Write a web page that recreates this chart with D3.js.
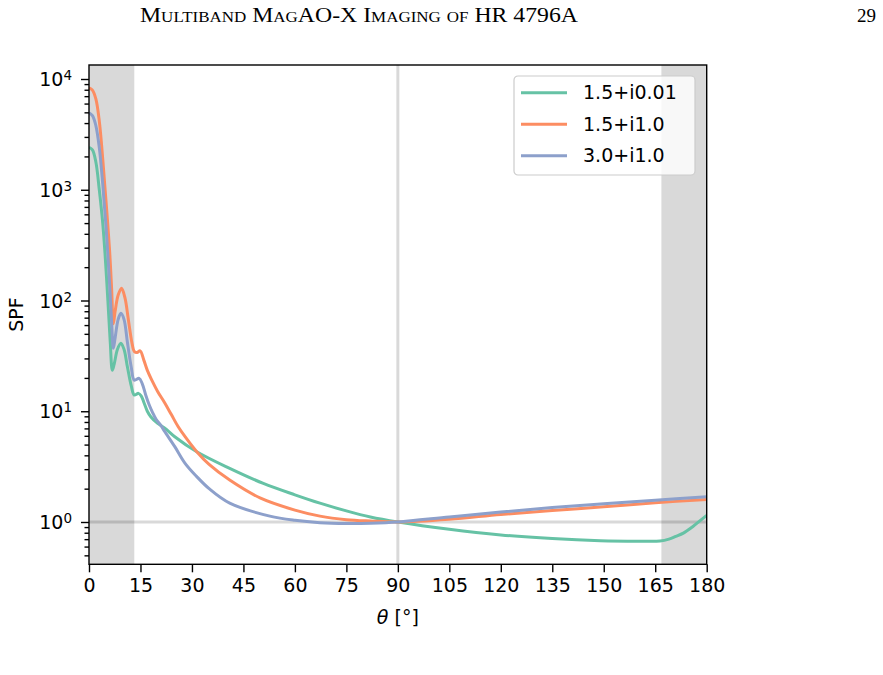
<!DOCTYPE html>
<meta charset="utf-8"/>
<title>SPF</title>
<script src="https://cdn.jsdelivr.net/npm/d3@7"></script>
<style>
  body { margin: 0; background: #fff; }
  svg text { font-family: 'DejaVu Sans', sans-serif; fill: #000; }
  .axis path, .axis line { stroke: #000; stroke-width: 1.4px; }
  .header { font-family: 'Liberation Serif', 'DejaVu Serif', serif !important; font-variant: small-caps; }
</style>
<svg width=883 height=675></svg>
<script>
  // angles in degrees, SPF
  const seriesNames = ['1.5+i0.01', '1.5+i1.0', '3.0+i1.0'];
  const seriesColors = ['#66c2a5', '#fc8d62', '#8da0cb'];

  const greenTheta = [0, 1, 2, 3, 4, 4.7, 5.5, 6.2, 6.8, 7.3, 8.3, 9.3, 10.2, 11.2, 12.3, 13.2, 14.4, 15.2, 16, 17, 18, 20, 22, 25, 31.4, 41, 50.8, 60, 67.3, 75, 82, 90, 105, 120, 135, 149, 160, 166.4, 169, 171, 173.2, 176, 178, 180];
  const greenSpf = [2415, 2291, 1778, 1000, 501, 257, 100, 41.7, 23.4, 26.3, 36.3, 41.1, 36.3, 25.1, 17.0, 14.0, 14.5, 13.8, 12.0, 10.0, 8.91, 7.76, 7.08, 5.89, 4.31, 3.05, 2.23, 1.76, 1.48, 1.26, 1.11, 1.0, 0.859, 0.764, 0.708, 0.678, 0.671, 0.673, 0.700, 0.741, 0.794, 0.912, 1.023, 1.148];

  const orangeTheta = [0, 1, 2, 3, 4, 5, 6, 6.6, 7.1, 7.6, 8.5, 9.5, 10.5, 11.5, 12.5, 13.2, 14, 14.9, 16, 17, 18.3, 20, 22, 24, 26, 28, 31.4, 35, 41, 50, 60, 67.3, 75, 82, 90, 105, 120, 135, 150, 165, 180];
  const orangeSpf = [8318, 7943, 6607, 4169, 1905, 759, 282, 126, 61.7, 79.4, 112, 129, 105, 66.1, 41.7, 34.7, 33.9, 35.1, 28.8, 23.4, 19.1, 15.1, 12.0, 9.33, 7.24, 5.89, 4.31, 3.31, 2.39, 1.64, 1.28, 1.13, 1.05, 1.02, 1.0, 1.06, 1.17, 1.27, 1.37, 1.49, 1.60];

  const blueTheta = [0, 1, 2, 3, 4, 5, 6, 6.6, 7.1, 7.6, 8.5, 9.3, 10.2, 11.2, 12.3, 13.2, 14.6, 15.5, 16.5, 17.5, 18.5, 19.5, 21, 22, 25, 28, 31.4, 35, 41, 52.7, 60, 67.3, 75, 82, 90, 105, 120, 135, 150, 165, 180];
  const blueSpf = [4966, 4677, 3802, 2399, 1122, 447, 141, 63.1, 37.0, 45.7, 67.6, 76.6, 67.6, 41.7, 25.1, 19.1, 19.8, 17.8, 14.1, 11.5, 9.77, 8.51, 7.41, 6.61, 4.79, 3.39, 2.57, 2.0, 1.48, 1.13, 1.035, 0.986, 0.970, 0.975, 1.0, 1.11, 1.23, 1.35, 1.46, 1.57, 1.69];

  const xTicks = [0, 15, 30, 45, 60, 75, 90, 105, 120, 135, 150, 165, 180];
  const yMajor = [1, 10, 100, 1000, 10000];
  const shadeSpans = [[0, 13.2], [166.8, 180]];

  const series = [
    {theta: greenTheta, spf: greenSpf},
    {theta: orangeTheta, spf: orangeSpf},
    {theta: blueTheta, spf: blueSpf}
  ].map((s, i) => ({name: seriesNames[i], color: seriesColors[i],
                    pts: s.theta.map((t, j) => [t, s.spf[j]])}));

  const pLeft = 89, pRight = 706.7, pTop = 65, pBottom = 564.3;
  const svg = d3.select('svg');

  const x = d3.scaleLinear().domain([0, 180]).range([pLeft, pRight]);
  const y = d3.scaleLog().domain([0.415, 13380]).range([pBottom, pTop]);

  svg.append('defs').append('clipPath').attr('id', 'clip')
    .append('rect').attr('x', pLeft).attr('y', pTop)
    .attr('width', pRight - pLeft).attr('height', pBottom - pTop);

  const plot = svg.append('g').attr('clip-path', 'url(#clip)');

  plot.selectAll('rect.shade').data(shadeSpans).enter().append('rect')
    .attr('class', 'shade')
    .attr('x', d => x(d[0])).attr('width', d => x(d[1]) - x(d[0]))
    .attr('y', pTop).attr('height', pBottom - pTop)
    .style('fill', '#d9d9d9');

  plot.append('line').attr('x1', x(90)).attr('x2', x(90)).attr('y1', pTop).attr('y2', pBottom)
    .style('stroke', '#000').style('stroke-opacity', 0.15).style('stroke-width', 3);
  plot.append('line').attr('x1', pLeft).attr('x2', pRight).attr('y1', y(1)).attr('y2', y(1))
    .style('stroke', '#000').style('stroke-opacity', 0.15).style('stroke-width', 3);

  const line = d3.line()
    .x(d => x(d[0])).y(d => y(d[1]))
    .curve(d3.curveCatmullRom.alpha(0.5));

  plot.selectAll('path.spf').data(series).enter().append('path')
    .attr('class', 'spf')
    .attr('d', d => line(d.pts))
    .style('fill', 'none')
    .style('stroke', d => d.color)
    .style('stroke-width', 3);

  // axes
  const xAxis = svg.append('g').attr('class', 'axis')
    .attr('transform', 'translate(0,' + pBottom + ')')
    .call(d3.axisBottom(x).tickValues(xTicks).tickSize(8).tickPadding(6));
  xAxis.select('.domain').remove();
  xAxis.selectAll('text').style('font-size', '19px');

  const minors = [];
  for (let e = -1; e <= 4; e++) {
    for (let k = 2; k <= 9; k++) {
      const v = k * Math.pow(10, e);
      if (v >= 0.415 && v <= 13380) minors.push(v);
    }
  }
  const yMinorAxis = svg.append('g').attr('class', 'axis')
    .attr('transform', 'translate(' + pLeft + ',0)')
    .call(d3.axisLeft(y).tickValues(minors).tickSize(4.5).tickFormat(''));
  yMinorAxis.select('.domain').remove();

  const yAxis = svg.append('g').attr('class', 'axis')
    .attr('transform', 'translate(' + pLeft + ',0)')
    .call(d3.axisLeft(y).tickValues(yMajor).tickSize(8).tickFormat(''));
  yAxis.select('.domain').remove();
  yAxis.selectAll('.tick').each(function (d) {
    const t = d3.select(this).append('text')
      .attr('x', -17).attr('dy', '0.35em')
      .style('text-anchor', 'end').style('font-size', '19px');
    t.append('tspan').text('10');
    t.append('tspan').attr('dy', '-0.45em').style('font-size', '13.5px')
      .text(Math.round(Math.log10(d)));
  });

  svg.append('rect').attr('x', pLeft).attr('y', pTop)
    .attr('width', pRight - pLeft).attr('height', pBottom - pTop)
    .style('fill', 'none').style('stroke', '#000').style('stroke-width', 1.4);

  // labels
  const xl = svg.append('text').attr('x', (pLeft + pRight) / 2).attr('y', 624)
    .style('text-anchor', 'middle').style('font-size', '19px');
  xl.append('tspan').style('font-style', 'italic').text('θ');
  xl.append('tspan').text(' [°]');

  svg.append('text').attr('transform', 'translate(23,' + ((pTop + pBottom) / 2) + ')rotate(-90)')
    .style('text-anchor', 'middle').style('font-size', '19px').text('SPF');

  // legend
  const lg = svg.append('g').attr('transform', 'translate(514,76)');
  lg.append('rect').attr('width', 181).attr('height', 99).attr('rx', 4)
    .style('fill', '#fff').style('fill-opacity', 0.8)
    .style('stroke', '#ccc').style('stroke-width', 1.2);
  const items = lg.selectAll('g.item').data(series).enter().append('g')
    .attr('class', 'item')
    .attr('transform', (d, i) => 'translate(0,' + (16.7 + i * 31.5) + ')');
  items.append('line').attr('x1', 7).attr('x2', 53)
    .style('stroke', d => d.color).style('stroke-width', 3);
  items.append('text').attr('x', 69).attr('dy', '0.35em')
    .style('font-size', '19px').text(d => d.name);

  // page header
  svg.append('text').attr('class', 'header').attr('x', 140).attr('y', 22)
    .attr('textLength', 438).attr('lengthAdjust', 'spacingAndGlyphs')
    .style('font-size', '21px').text('Multiband MagAO-X Imaging of HR 4796A');
  svg.append('text').attr('class', 'header').attr('x', 876).attr('y', 22)
    .style('text-anchor', 'end').style('font-size', '19px').text('29');
</script>
